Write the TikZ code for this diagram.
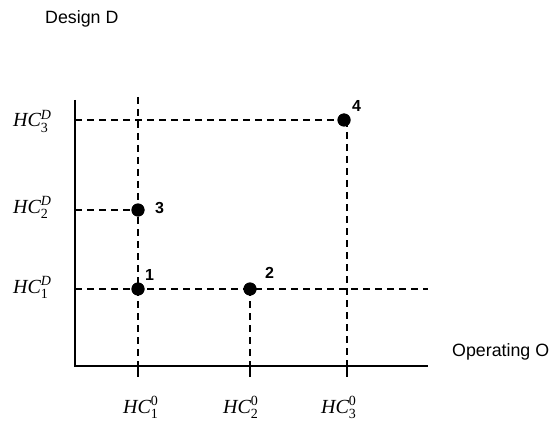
\documentclass[tikz,border=0pt]{standalone}
\usepackage{amsmath}
\usepackage{fontspec}
\setmainfont{Liberation Sans}
\newfontfamily\tnr{Liberation Serif}
\newcommand\hcD[1]{$\textit{HC}^{\textit{D}}_{\textup{#1}}$}
\newcommand\hcO[1]{$\textit{HC}^{\textup{0}}_{\textup{#1}}$}
\begin{document}
\begin{tikzpicture}[x=1pt,y=-1pt,
  axisline/.style={line width=2.5pt},
  guide/.style={line width=2.2pt, dash pattern=on 7pt off 5pt},
  ptdot/.style={circle, fill=black, inner sep=0pt, minimum size=13pt},
  ptlabel/.style={font=\fontsize{16}{18}\selectfont\bfseries, anchor=base west, inner sep=0pt},
  axlabel/.style={font=\fontsize{17.8}{20}\selectfont, anchor=base west, inner sep=0pt},
  hclabel/.style={font=\tnr\fontsize{20}{22}\selectfont, anchor=base west, inner sep=0pt}]
\useasboundingbox (0,0) rectangle (551,422);
% coordinates
\coordinate (org) at (75,366);
\coordinate (ytop) at (75,100);
\coordinate (xend) at (428,366);
\coordinate (y3) at (75,120);
\coordinate (y2) at (75,210);
\coordinate (y1) at (75,289);
\coordinate (v1top) at (138,97);
\coordinate (b1) at (138,366);
\coordinate (b2) at (250,366);
\coordinate (b3) at (347,366);
\coordinate (t1) at (138,377);
\coordinate (t2) at (250,377);
\coordinate (t3) at (347,377);
\coordinate (r1) at (428,289);
\coordinate (c4) at (347,120);
% points
\node[ptdot] (p1) at (138,289) {};
\node[ptdot] (p2) at (250,289) {};
\node[ptdot] (p3) at (138,210) {};
\node[ptdot] (p4) at (344,120) {};
% dashed guides
\draw[guide] (y3) -- (p4.center);
\draw[guide] (c4) -- (b3);
\draw[guide] (y2) -- (p3.center);
\draw[guide] (y1) -- (r1);
\draw[guide] (v1top) -- (b1);
\draw[guide] (p2.center) -- (b2);
% axes
\draw[axisline] (ytop) -- (org) -- (xend);
\draw[axisline] (b1) -- (t1);
\draw[axisline] (b2) -- (t2);
\draw[axisline] (b3) -- (t3);
% redraw dots on top
\fill (p1) circle (6.5pt);
\fill (p2) circle (6.5pt);
\fill (p3) circle (6.5pt);
\fill (p4) circle (6.5pt);
% point labels
\node[ptlabel] (n1) at (145,280) {1};
\node[ptlabel] (n2) at (265,278) {2};
\node[ptlabel] (n3) at (155,213) {3};
\node[ptlabel] (n4) at (352,112) {4};
% axis titles
\node[axlabel] (dtitle) at (45,24) {Design D};
\node[axlabel] (otitle) at (452,356) {Operating O};
% HC labels
\node[hclabel] (hd3) at (13,127) {\hcD{3}};
\node[hclabel] (hd2) at (13,213) {\hcD{2}};
\node[hclabel] (hd1) at (13,293) {\hcD{1}};
\node[hclabel] (ho1) at (123,413) {\hcO{1}};
\node[hclabel] (ho2) at (223,413) {\hcO{2}};
\node[hclabel] (ho3) at (321,413) {\hcO{3}};
\end{tikzpicture}
\end{document}
